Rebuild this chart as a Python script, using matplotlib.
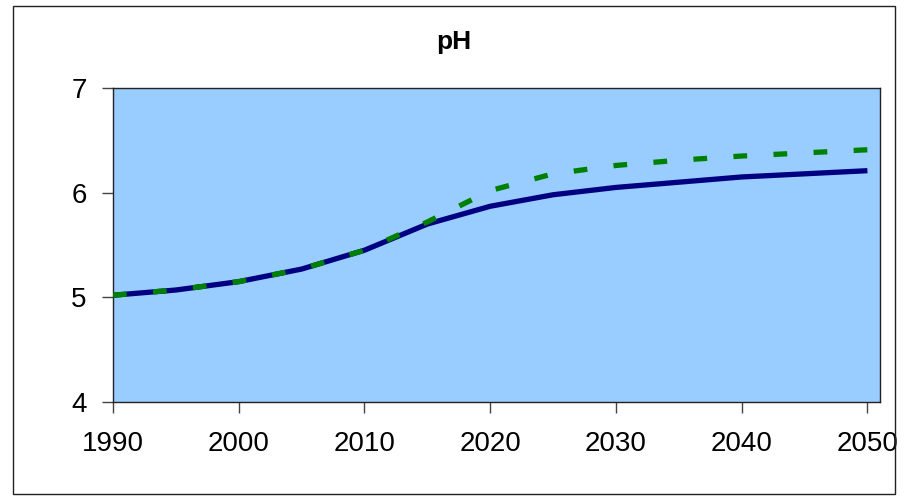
import matplotlib.pyplot as plt
from matplotlib.patches import Rectangle

plt.rcParams['font.family'] = ['Liberation Sans', 'DejaVu Sans']

# pH projections, read every 5 years
years = [1990, 1995, 2000, 2005, 2010, 2015, 2020, 2025, 2030, 2035, 2040, 2045, 2050]
ph_base = [5.02, 5.07, 5.15, 5.27, 5.45, 5.70, 5.87, 5.98, 6.05, 6.10, 6.15, 6.18, 6.21]
ph_alt = [5.02, 5.07, 5.15, 5.27, 5.45, 5.72, 6.02, 6.18, 6.26, 6.31, 6.35, 6.38, 6.41]

x_ticks = [1990, 2000, 2010, 2020, 2030, 2040, 2050]
y_ticks = [4, 5, 6, 7]

fig = plt.figure(figsize=(9.08, 4.96), dpi=100)
W, H = 908, 496

# outer chart frame
fig.patches.append(Rectangle((13 / W, 1 - 494 / H), (895 - 13) / W, (494 - 6) / H,
                             transform=fig.transFigure, fill=False,
                             edgecolor='#222222', linewidth=1.0))

ax = fig.add_axes([113 / W, 1 - 402 / H, (880 - 113) / W, (402 - 88) / H])
ax.set_facecolor('#99CCFF')

ax.plot(years, ph_base, color='#000080', linewidth=3.8, solid_capstyle='butt', zorder=3)
ax.plot(years, ph_alt, color='#008000', linewidth=3.8, linestyle=(0, (2.6, 5.0)),
        dash_capstyle='butt', zorder=4)

ax.set_xlim(1990, 2051)
ax.set_ylim(4, 7)
ax.set_xticks(x_ticks)
ax.set_yticks(y_ticks)
ax.tick_params(axis='both', direction='out', length=8, width=1, color='#444444',
               labelsize=20)
ax.tick_params(axis='y', pad=11)
ax.tick_params(axis='x', pad=13)
for side in ax.spines.values():
    side.set_color('#222222')
    side.set_linewidth(1.0)

fig.text(454 / W, 1 - 42 / H, 'pH', ha='center', va='center',
         fontsize=19, fontweight='bold')

fig.savefig('out.png', dpi=100)
